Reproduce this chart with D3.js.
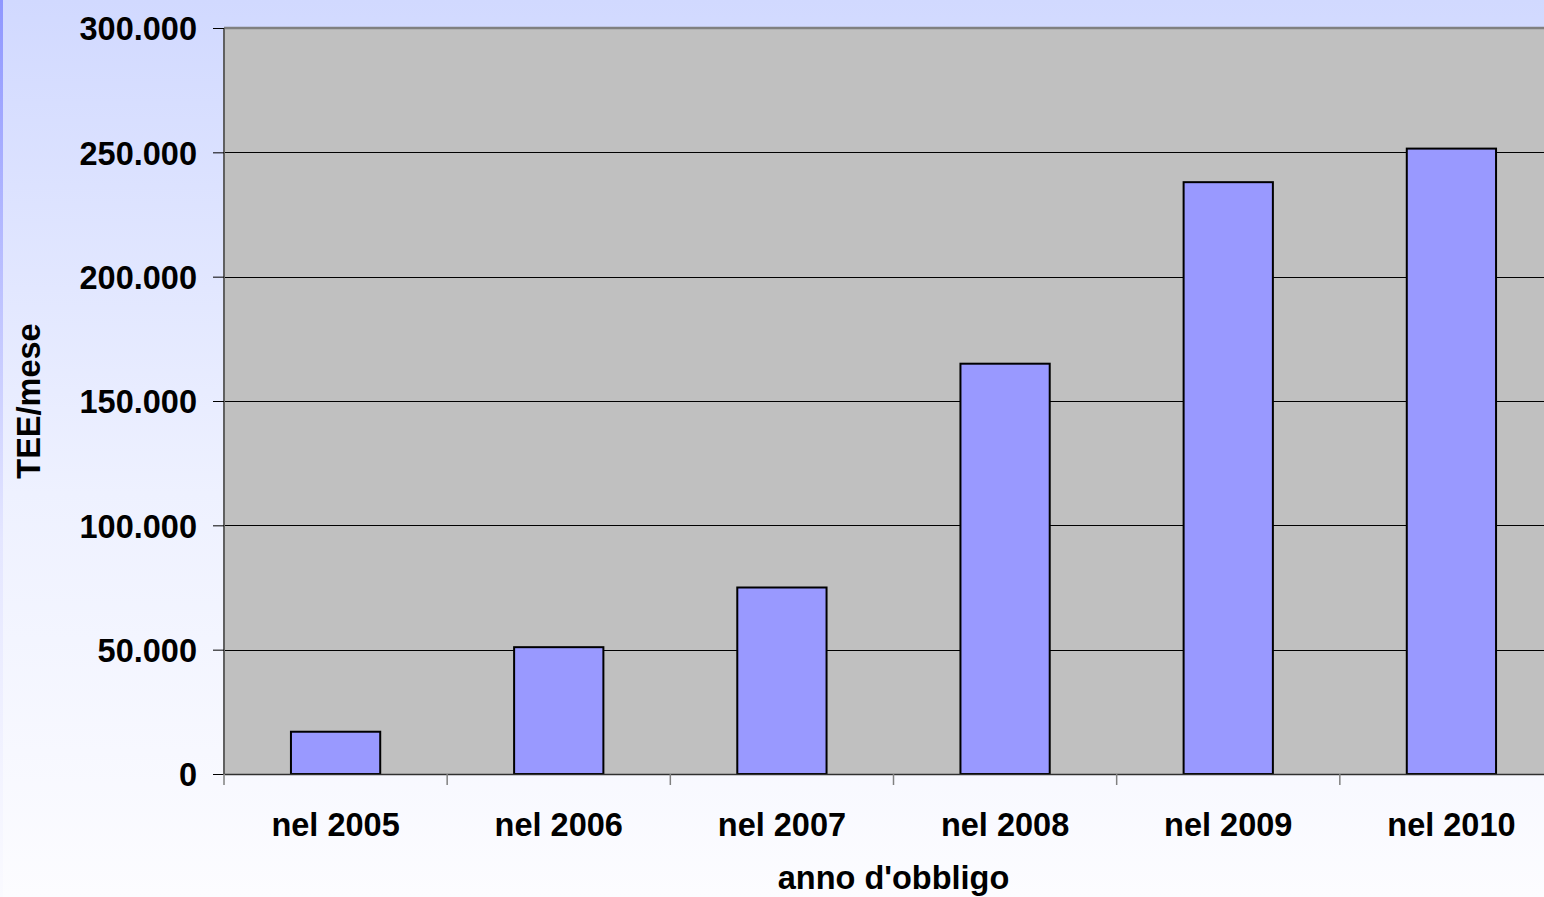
<!DOCTYPE html>
<html>
<head>
<meta charset="utf-8">
<script src="https://cdn.jsdelivr.net/npm/d3@7"></script>
<style>
  html, body { margin: 0; padding: 0; overflow: hidden; }
  svg { display: block; font-family: "Liberation Sans", Arial, sans-serif; font-weight: bold; }
</style>
</head>
<body>
<svg id="chart" width="1544" height="897"></svg>
<script>
// Certificati TEE per mese, per anno d'obbligo
const categories = ["nel 2005", "nel 2006", "nel 2007", "nel 2008", "nel 2009", "nel 2010"];
const values = [17000, 51000, 75000, 165000, 238000, 251500];
const yTicks = [0, 50000, 100000, 150000, 200000, 250000, 300000];
const yTitle = "TEE/mese";
const xTitle = "anno d'obbligo";

const W = 1544, H = 897;
const plot = { left: 224, top: 28, right: 1563, bottom: 774 };

const svg = d3.select("#chart");
const defs = svg.append("defs");

const bg = defs.append("linearGradient").attr("id", "bg").attr("x1", 0).attr("y1", 0).attr("x2", 0).attr("y2", 1);
bg.append("stop").attr("offset", "0%").attr("stop-color", "#d1d9ff");
bg.append("stop").attr("offset", "55%").attr("stop-color", "#eef1ff");
bg.append("stop").attr("offset", "100%").attr("stop-color", "#fcfcff");

const edge = defs.append("linearGradient").attr("id", "edge").attr("x1", 0).attr("y1", 0).attr("x2", 0).attr("y2", 1);
edge.append("stop").attr("offset", "0%").attr("stop-color", "#8f97ff");
edge.append("stop").attr("offset", "60%").attr("stop-color", "#e4e6ff");
edge.append("stop").attr("offset", "100%").attr("stop-color", "#fafaff");

svg.append("rect").attr("width", W).attr("height", H).attr("fill", "url(#bg)");
svg.append("rect").attr("width", 3).attr("height", H).attr("fill", "url(#edge)");

const fmt = d => d3.format(",")(d).replace(/,/g, ".");

const x = d3.scaleBand().domain(categories).range([plot.left, plot.right]).paddingInner(0.6).paddingOuter(0.3);
const xb = d3.scaleBand().domain(categories).range([plot.left, plot.right]);
const y = d3.scaleLinear().domain([0, 300000]).range([plot.bottom, plot.top]);

// plot area
svg.append("rect")
  .attr("x", plot.left).attr("y", plot.top)
  .attr("width", plot.right - plot.left).attr("height", plot.bottom - plot.top)
  .attr("fill", "#c0c0c0");

// gridlines
svg.append("g").selectAll("line")
  .data(yTicks.filter(t => t > 0 && t < 300000))
  .join("line")
  .attr("x1", plot.left).attr("x2", plot.right)
  .attr("y1", d => Math.round(y(d)) + 0.5).attr("y2", d => Math.round(y(d)) + 0.5)
  .attr("stroke", "#000").attr("stroke-width", 1);

// plot border (top and left)
svg.append("line").attr("x1", plot.left).attr("x2", plot.right)
  .attr("y1", plot.top).attr("y2", plot.top).attr("stroke", "#808080").attr("stroke-width", 2.5);
svg.append("line").attr("x1", plot.left).attr("x2", plot.left)
  .attr("y1", plot.top).attr("y2", plot.bottom).attr("stroke", "#606060").attr("stroke-width", 2);

// bars
svg.append("g").selectAll("rect")
  .data(values)
  .join("rect")
  .attr("x", (d, i) => x(categories[i]))
  .attr("y", d => y(d))
  .attr("width", x.bandwidth())
  .attr("height", d => plot.bottom - y(d))
  .attr("fill", "#9999ff")
  .attr("stroke", "#000")
  .attr("stroke-width", 2);

// y axis
const yAxis = d3.axisLeft(y).tickValues(yTicks).tickFormat(fmt).tickSize(11).tickPadding(16);
const yg = svg.append("g").attr("transform", `translate(${plot.left},0)`).call(yAxis);
yg.select(".domain").remove();
yg.selectAll(".tick line").attr("stroke", "#000");
yg.selectAll(".tick text")
  .attr("font-size", 32.5).attr("font-weight", "bold")
  .attr("font-family", "'Liberation Sans', Arial, sans-serif")
  .attr("fill", "#000").attr("dy", "0.36em");

// x axis
const xAxis = d3.axisBottom(xb).tickSize(0).tickPadding(0);
const xg = svg.append("g").attr("transform", `translate(0,${plot.bottom})`).call(xAxis);
xg.select(".domain").attr("stroke", "#303030").attr("stroke-width", 1.5);
xg.selectAll(".tick text")
  .attr("font-size", 32.5).attr("font-weight", "bold")
  .attr("font-family", "'Liberation Sans', Arial, sans-serif")
  .attr("fill", "#000").attr("y", 62).attr("dy", 0);
// category boundary ticks
svg.append("g").selectAll("line")
  .data(categories)
  .join("line")
  .attr("x1", d => xb(d)).attr("x2", d => xb(d))
  .attr("y1", plot.bottom).attr("y2", plot.bottom + 11)
  .attr("stroke", "#808080").attr("stroke-width", 1.5);

// axis titles
svg.append("text")
  .attr("x", (plot.left + plot.right) / 2).attr("y", 889)
  .attr("text-anchor", "middle").attr("font-size", 32.5).attr("font-weight", "bold")
  .text(xTitle);
svg.append("text")
  .attr("transform", `translate(40,${(plot.top + plot.bottom) / 2}) rotate(-90)`)
  .attr("text-anchor", "middle").attr("font-size", 32.5).attr("font-weight", "bold")
  .text(yTitle);
</script>
</body>
</html>
